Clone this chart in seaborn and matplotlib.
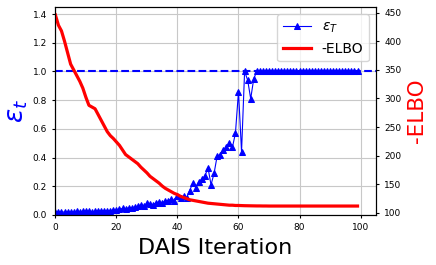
import numpy as np
import matplotlib
matplotlib.use("Agg")
import matplotlib.pyplot as plt
import seaborn as sns

# DAIS iterations
iterations = list(range(100))

# epsilon_T per iteration (left axis)
eps_t = [0.02, 0.02, 0.02, 0.02, 0.02, 0.02, 0.02, 0.025, 0.02, 0.025,
         0.025, 0.025, 0.02, 0.025, 0.03, 0.025, 0.03, 0.03, 0.03, 0.035,
         0.035, 0.04, 0.045, 0.04, 0.05, 0.05, 0.055, 0.06, 0.07, 0.065,
         0.08, 0.075, 0.07, 0.085, 0.09, 0.08, 0.10, 0.10, 0.11, 0.10,
         0.13, 0.12, 0.13, 0.12, 0.17, 0.22, 0.19, 0.23, 0.25, 0.27,
         0.33, 0.21, 0.29, 0.41, 0.42, 0.45, 0.47, 0.50, 0.47, 0.57,
         0.86, 0.44, 1.0, 0.94, 0.81, 0.95, 1.0, 1.0, 1.0, 1.0] + [1.0] * 30

# -ELBO per iteration (right axis)
neg_elbo = [446, 428, 418, 400, 380, 360, 350, 340, 330, 318,
            302, 288, 285, 282, 272, 262, 252, 242, 235, 230,
            224, 218, 210, 202, 198, 194, 190, 186, 180, 175,
            170, 164, 160, 156, 152, 147, 143, 140, 137, 134,
            132, 129, 127, 125, 123, 122, 121, 120, 119, 118,
            117, 116.5, 116, 115.5, 115, 114.5, 114, 113.5, 113.5, 113,
            113, 112.8, 112.6, 112.5, 112.4, 112.3, 112.2, 112.2, 112.1, 112.1] + [112.0] * 30

fig, ax = plt.subplots(figsize=(4.36, 2.65), dpi=100)
fig.subplots_adjust(left=0.127, right=0.862, top=0.974, bottom=0.189)

sns.lineplot(x=iterations, y=eps_t, ax=ax, color="blue", marker="^",
             markersize=4.5, markeredgecolor="blue", linewidth=0.8,
             label=r"$\epsilon_T$", legend=False)
ax.axhline(1.0, color="blue", linestyle="--", linewidth=1.5)
ax.set_ylim(0, 1.45)
ax.set_xlim(0, 105)
ax.grid(True, color="#c8c8c8", linewidth=0.8)
ax.set_xlabel("DAIS Iteration", fontsize=16)
ax.set_ylabel(r"$\epsilon_t$", fontsize=19, color="blue", labelpad=2)
ax.tick_params(labelsize=6.5, length=2.5)

ax2 = ax.twinx()
sns.lineplot(x=iterations, y=neg_elbo, ax=ax2, color="red", linewidth=2.3,
             label="-ELBO", legend=False)
ax2.set_ylim(96.5, 460)
ax2.set_ylabel("-ELBO", fontsize=15.5, color="red")
ax2.tick_params(labelsize=6.5, length=2.5)

h1, l1 = ax.get_legend_handles_labels()
h2, l2 = ax2.get_legend_handles_labels()
ax2.legend(h1 + h2, l1 + l2, loc="upper right", fontsize=10)

plt.savefig("out.png", dpi=100)
plt.close()
